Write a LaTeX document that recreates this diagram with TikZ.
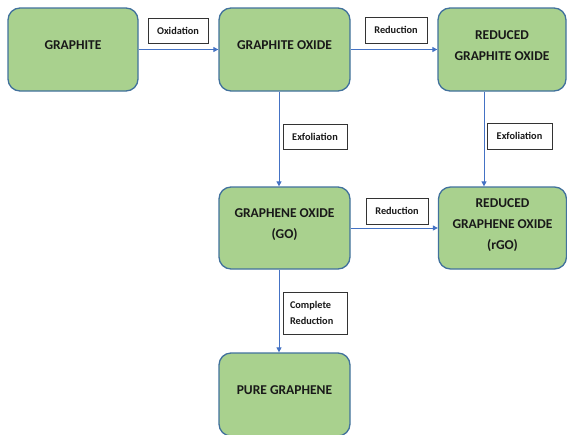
\documentclass[tikz,border=0pt]{standalone}
\usepackage{fontspec}
\setmainfont{Carlito}
\usetikzlibrary{arrows.meta}
\definecolor{boxfill}{HTML}{A9D18E}
\definecolor{boxline}{HTML}{41719C}
\definecolor{arrcol}{HTML}{4472C4}
\begin{document}
\begin{tikzpicture}[x=1pt,y=-1pt,
  stage/.style={draw=boxline, line width=1.3pt, fill=boxfill, rounded corners=12pt,
    minimum width=130pt, minimum height=83pt, inner sep=2pt, align=center, text depth=8pt,
    font=\fontsize{13.5}{21}\selectfont\bfseries, text=black!90},
  lbl/.style={draw=black!80, line width=0.7pt, fill=white, inner sep=0pt, align=left,
    font=\fontsize{10.3}{16}\selectfont\bfseries, text=black!90},
  arr/.style={draw=arrcol, line width=1pt, -{Triangle[length=5pt,width=5pt]}}]
\useasboundingbox (0,0) rectangle (567,434);
\clip (0,0) rectangle (567,434);
\node[stage] (g) at (73,49.5) {GRAPHITE};
\node[stage, minimum width=131pt] (go) at (284.5,49.5) {GRAPHITE OXIDE};
\node[stage, minimum width=128pt] (rgi) at (502,49.5) {REDUCED\\GRAPHITE OXIDE};
\node[stage, minimum width=131pt, minimum height=82pt] (geo) at (284.5,228) {GRAPHENE OXIDE\\(GO)};
\node[stage, minimum width=128pt, minimum height=82pt] (rgeo) at (502.5,228) {REDUCED\\GRAPHENE OXIDE\\(rGO)};
\node[stage, minimum width=131pt] (pure) at (284.5,394.5) {PURE GRAPHENE};

\draw[arr] (g.east) -- (go.west);
\draw[arr] (go.east) -- (rgi.west);
\draw[arr] ([xshift=-5.5pt]go.south) -- ([xshift=-5.5pt]geo.north);
\draw[arr] ([xshift=-18pt]rgi.south) -- ([xshift=-18.5pt]rgeo.north);
\draw[arr] (geo.east) -- (rgeo.west);
\draw[arr] ([xshift=-5.5pt]geo.south) -- ([xshift=-5.5pt]pure.north);

\node[lbl, minimum width=60pt, minimum height=25pt] (l1) at (178,30.5) {Oxidation};
\node[lbl, minimum width=62pt, minimum height=26pt] (l2) at (396,30) {Reduction};
\node[lbl, minimum width=64pt, minimum height=25pt] (l3) at (315,136.5) {Exfoliation};
\node[lbl, minimum width=65pt, minimum height=26pt] (l4) at (519.5,136) {Exfoliation};
\node[lbl, minimum width=62pt, minimum height=26pt] (l5) at (397,211) {Reduction};
\node[lbl, minimum width=64pt, minimum height=42pt, text width=50pt] (l6) at (315,313) {Complete\\Reduction};
\end{tikzpicture}
\end{document}
